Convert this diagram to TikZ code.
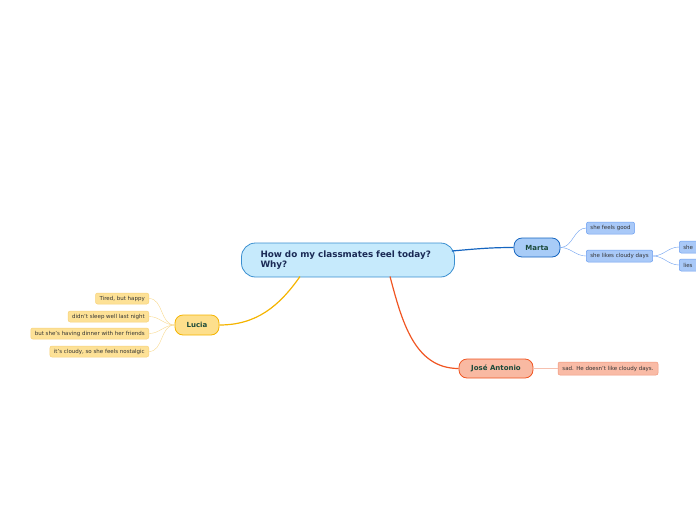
\documentclass[tikz,border=0pt]{standalone}
\usepackage{fontspec}
\setmainfont{DejaVu Sans}
\usetikzlibrary{arrows.meta}

\definecolor{rootfill}{HTML}{C6EAFC}
\definecolor{rootline}{HTML}{3A8FD0}
\definecolor{navytext}{HTML}{1A2A55}
\definecolor{greentext}{HTML}{1B4A3A}
\definecolor{martafill}{HTML}{A8CCF7}
\definecolor{martaline}{HTML}{1565C0}
\definecolor{martaleaf}{HTML}{A9C9F8}
\definecolor{martaleafline}{HTML}{6C9FF0}
\definecolor{luciafill}{HTML}{FDDF8C}
\definecolor{lucialine}{HTML}{F5B400}
\definecolor{lucialeaf}{HTML}{FDE196}
\definecolor{lucialeafline}{HTML}{F7D27A}
\definecolor{joseFill}{HTML}{F9B9A2}
\definecolor{joseline}{HTML}{F05522}
\definecolor{joseleaf}{HTML}{F9BBA6}
\definecolor{joseleafline}{HTML}{F0957A}

\begin{document}
\begin{tikzpicture}[x=1pt, y=-1pt,
	topic/.style={draw, line width=0.8pt, rounded corners=8pt, font=\fontsize{7}{8}\selectfont\bfseries, text=greentext, inner sep=0pt},
	leaf/.style={draw, line width=0.5pt, rounded corners=2pt, font=\fontsize{5.5}{6.5}\selectfont, text=black!80, inner xsep=4pt, inner ysep=0pt},
	branch/.style={line width=1.2pt}]
	\useasboundingbox (0,0) rectangle (696,520);
	% central topic
	\node[draw=rootline, fill=rootfill, line width=0.8pt, rounded corners=14pt, text width=175pt, inner xsep=19pt, minimum height=34pt, align=left, text=navytext, font=\fontsize{8.8}{10.5}\selectfont\bfseries] (root) at (348,260) {How do my classmates feel today?\\Why?};
	% main topics
	\node[topic, draw=martaline, fill=martafill, minimum width=46pt, minimum height=19pt] (marta) at (537,247.5) {Marta};
	\node[topic, draw=lucialine, fill=luciafill, minimum width=44pt, minimum height=20pt] (lucia) at (197,325) {Lucia};
	\node[topic, draw=joseline, fill=joseFill, minimum width=74pt, minimum height=19pt] (jose) at (496,368.5) {José Antonio};
	\draw[branch, martaline] (root.east) ++(-3,-9) coordinate (rm) to[out=5, in=180] (marta.west);
	\draw[branch, lucialine] (300,276.5) coordinate (rl) to[out=-125, in=0] (lucia.east);
	\draw[branch, joseline] (390,276.5) coordinate (rj) to[out=-75, in=180] (jose.west);
	% Marta
	\begin{scope}[every node/.append style={leaf, draw=martaleafline, fill=martaleaf, minimum height=12pt}]
		\node (good) at (610.5,228) {she feels good};
		\node (cloudy) at (619.5,256) {she likes cloudy days};
		\node[anchor=west, minimum width=60pt, align=left, text width=52pt] (she) at (679,247) {she};
		\node[anchor=west, minimum width=60pt, align=left, text width=52pt] (lies) at (679,265) {lies};
	\end{scope}
	\draw[martaleafline] (marta.east) to[out=0, in=180] (good.west);
	\draw[martaleafline] (marta.east) to[out=0, in=180] (cloudy.west);
	\draw[martaleafline] (cloudy.east) to[out=0, in=180] (she.west);
	\draw[martaleafline] (cloudy.east) to[out=0, in=180] (lies.west);
	% Lucia
	\begin{scope}[every node/.append style={leaf, draw=lucialeafline, fill=lucialeaf, minimum height=11pt, anchor=east}]
		\node (tired) at (149,298.5) {Tired, but happy};
		\node (sleep) at (149,316.5) {didn't sleep well last night};
		\node (dinner) at (149,333.5) {but she's having dinner with her friends};
		\node (nostalgic) at (149,351.5) {it's cloudy, so she feels nostalgic};
	\end{scope}
	\foreach \n in {tired,sleep,dinner,nostalgic}
		\draw[lucialeafline!85] (lucia.west) to[out=180, in=0] (\n.east);
	% Jose Antonio
	\node[leaf, draw=joseleafline, fill=joseleaf, minimum height=13pt, minimum width=100pt] (sad) at (608,368.5) {sad. He doesn't like cloudy days.};
	\draw[joseleafline!60, line width=0.8pt] (jose.east) -- (sad.west);
\end{tikzpicture}
\end{document}
